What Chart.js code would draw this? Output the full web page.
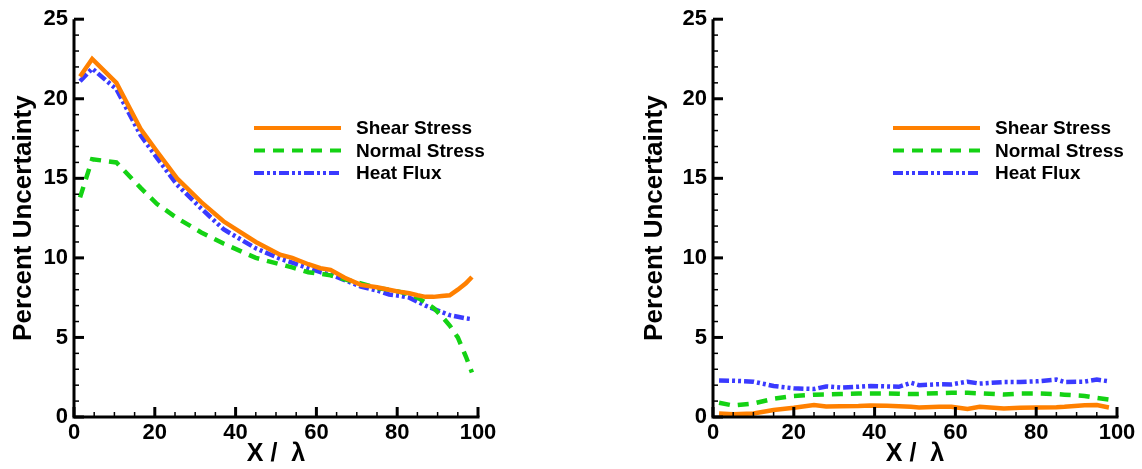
<!DOCTYPE html>
<html>
<head>
<meta charset="utf-8">
<script src="https://cdn.jsdelivr.net/npm/chart.js@4.4.1/dist/chart.umd.min.js"></script>
<style>
  html, body { margin: 0; padding: 0; background: #fff; overflow: hidden; }
  canvas { position: absolute; top: 0; }
  #left { left: 0; }
  #right { left: 571px; }
</style>
</head>
<body>
<canvas id="left" width="571" height="469"></canvas>
<canvas id="right" width="571" height="469"></canvas>
<script>
// series names
const seriesNames = ['Shear Stress', 'Normal Stress', 'Heat Flux'];

// left panel
const xLeft      = [1.5, 4.5, 10.5, 16.5, 20.5, 25.5, 31.5, 37, 45, 51, 54, 58, 61, 63.5, 67, 71, 75, 78, 81, 83, 85, 87, 89, 91, 93, 95, 97, 98.5];
const shearLeft  = [21.4, 22.5, 21.0, 18.1, 16.7, 15.0, 13.5, 12.3, 11.0, 10.2, 10.0, 9.6, 9.35, 9.25, 8.75, 8.3, 8.15, 8.0, 7.85, 7.78, 7.65, 7.55, 7.55, 7.6, 7.65, 8.0, 8.4, 8.8];
const normalLeft = [13.8, 16.2, 16.0, 14.4, 13.4, 12.5, 11.6, 10.9, 10.0, 9.6, 9.4, 9.1, 9.0, 8.9, 8.65, 8.4, 8.1, 8.0, 7.85, 7.7, 7.5, 7.2, 6.85, 6.35, 5.75, 5.0, 3.8, 2.8];
const heatLeft   = [21.1, 21.9, 20.6, 17.7, 16.3, 14.6, 13.1, 11.8, 10.6, 9.95, 9.7, 9.35, 9.1, 8.95, 8.6, 8.2, 7.95, 7.7, 7.6, 7.5, 7.25, 7.0, 6.8, 6.6, 6.4, 6.3, 6.2, 6.15];

// right panel
const xRight      = [1.5, 5, 10, 15, 20, 25, 28, 31.5, 36, 39, 43, 46, 49, 51, 56, 59, 63, 66, 72, 76, 80, 85, 87, 92, 95, 98];
const shearRight  = [0.22, 0.17, 0.22, 0.44, 0.58, 0.75, 0.66, 0.68, 0.69, 0.72, 0.7, 0.68, 0.64, 0.6, 0.64, 0.64, 0.5, 0.64, 0.54, 0.58, 0.6, 0.62, 0.64, 0.74, 0.75, 0.6];
const normalRight = [0.9, 0.72, 0.85, 1.15, 1.32, 1.4, 1.41, 1.44, 1.47, 1.48, 1.48, 1.46, 1.44, 1.45, 1.5, 1.52, 1.52, 1.49, 1.41, 1.47, 1.48, 1.44, 1.4, 1.32, 1.2, 1.1];
const heatRight   = [2.3, 2.28, 2.22, 1.95, 1.8, 1.76, 1.92, 1.85, 1.9, 1.95, 1.92, 1.9, 2.15, 2.0, 2.06, 2.05, 2.22, 2.1, 2.2, 2.2, 2.24, 2.35, 2.2, 2.22, 2.35, 2.24];

// tick labels
const xTickVals = [0, 20, 40, 60, 80, 100];
const yTickVals = [0, 5, 10, 15, 20, 25];

const colors = ['#ff8000', '#14d214', '#3a3aff'];
const dashes = [[], [11, 8], [10, 3, 3, 3, 3, 3]];
const FONT = '"Liberation Sans", Arial, sans-serif';

// inward ticks and the two axis lines
const axisTicks = {
  id: 'axisTicks',
  afterDatasetsDraw(chart) {
    const { ctx, chartArea: a, scales: { x, y } } = chart;
    ctx.save();
    ctx.strokeStyle = '#000';
    for (let v = 0; v <= 25; v++) {
      const major = v % 5 === 0;
      const py = y.getPixelForValue(v);
      ctx.lineWidth = major ? 3 : 1.5;
      ctx.beginPath();
      ctx.moveTo(a.left, py);
      ctx.lineTo(a.left + (major ? 10 : 5), py);
      ctx.stroke();
    }
    for (let v = 0; v <= 100; v += 5) {
      const major = v % 20 === 0;
      const px = x.getPixelForValue(v);
      ctx.lineWidth = major ? 3 : 1.5;
      ctx.beginPath();
      ctx.moveTo(px, a.bottom);
      ctx.lineTo(px, a.bottom - (major ? 10 : 5));
      ctx.stroke();
    }
    ctx.lineWidth = 3;
    ctx.beginPath();
    ctx.moveTo(a.left, a.top);
    ctx.lineTo(a.left, a.bottom);
    ctx.lineTo(a.right + 1.5, a.bottom);
    ctx.stroke();
    ctx.restore();
  }
};

// legend inside the plot
const legendBox = {
  id: 'legendBox',
  afterDraw(chart) {
    const { ctx, chartArea } = chart;
    const x0 = chartArea.left + 180;
    chart.data.datasets.forEach((ds, i) => {
      const yy = 128 + i * 22.5;
      ctx.save();
      ctx.strokeStyle = ds.borderColor;
      ctx.lineWidth = 4;
      ctx.setLineDash(ds.borderDash);
      ctx.beginPath();
      ctx.moveTo(x0, yy);
      ctx.lineTo(x0 + 87, yy);
      ctx.stroke();
      ctx.setLineDash([]);
      ctx.fillStyle = '#000';
      ctx.font = 'bold 19px ' + FONT;
      ctx.textBaseline = 'middle';
      ctx.fillText(ds.label, x0 + 102, yy + 1);
      ctx.restore();
    });
  }
};

function makeChart(id, xs, series, padLeft, yWidth, padRight) {
  const ctx = document.getElementById(id).getContext('2d');
  return new Chart(ctx, {
    type: 'line',
    data: {
      datasets: series.map((vals, i) => ({
        label: seriesNames[i],
        data: vals.map((v, k) => ({ x: xs[k], y: v })),
        borderColor: colors[i],
        borderWidth: 4.5,
        borderDash: dashes[i],
        pointRadius: 0,
        tension: 0,
        fill: false
      }))
    },
    options: {
      responsive: false,
      animation: false,
      devicePixelRatio: 1,
      layout: { padding: { top: 16, left: padLeft, right: padRight, bottom: 0 } },
      plugins: { legend: { display: false }, tooltip: { enabled: false } },
      scales: {
        x: {
          type: 'linear', min: 0, max: 100,
          grid: { display: false, drawTicks: false },
          border: { display: false },
          afterBuildTicks: s => { s.ticks = xTickVals.map(v => ({ value: v })); },
          afterFit: s => { s.height = 52; },
          ticks: { color: '#000', font: { family: FONT, size: 22, weight: 'bold' }, padding: 3, maxRotation: 0 },
          title: { display: true, text: 'X /  \u03bb', color: '#000', font: { family: FONT, size: 25, weight: 'bold' }, padding: 0 }
        },
        y: {
          type: 'linear', min: 0, max: 25,
          grid: { display: false, drawTicks: false },
          border: { display: false },
          afterBuildTicks: s => { s.ticks = yTickVals.map(v => ({ value: v })); },
          afterFit: s => { s.width = yWidth; },
          ticks: { color: '#000', font: { family: FONT, size: 22, weight: 'bold' }, padding: 6 },
          title: { display: true, text: 'Percent Uncertainty', color: '#000', font: { family: FONT, size: 26, weight: 'bold' }, padding: { top: 8, bottom: 0 } }
        }
      }
    },
    plugins: [axisTicks, legendBox]
  });
}

makeChart('left', xLeft, [shearLeft, normalLeft, heatLeft], 0, 74, 93);
makeChart('right', xRight, [shearRight, normalRight, heatRight], 60, 82, 25);
</script>
</body>
</html>
